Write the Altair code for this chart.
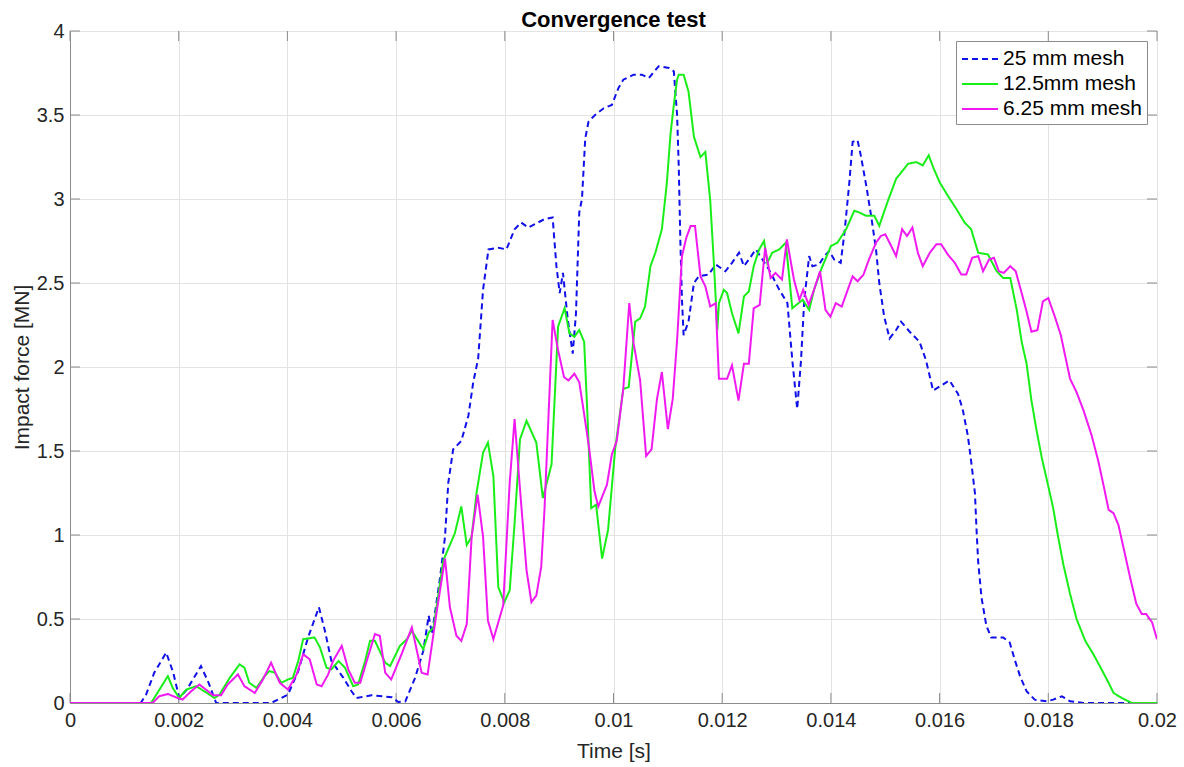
import altair as alt
import pandas as pd

# ---------------- data ----------------
series_names = ["25 mm mesh", "12.5mm mesh", "6.25 mm mesh"]
series_colors = ["#1010e8", "#19ee19", "#f01af0"]

x_ticks = [0, 0.002, 0.004, 0.006, 0.008, 0.01, 0.012, 0.014, 0.016, 0.018, 0.02]
y_ticks = [0, 0.5, 1, 1.5, 2, 2.5, 3, 3.5, 4]

# 25 mm mesh: time [ms], force [MN]
t25_ms = [0, 1.30, 1.40, 1.55, 1.77, 1.90, 2.01, 2.15, 2.41, 2.55, 2.69, 3.70, 4.01, 4.20,
          4.38, 4.58, 4.69, 4.81, 5.03, 5.18, 5.27, 5.55, 5.92, 6.04, 6.17, 6.35, 6.50,
          6.60, 6.66, 6.81, 6.90, 6.96, 7.05, 7.20, 7.33, 7.42, 7.51, 7.60, 7.70, 7.88,
          8.03, 8.18, 8.30, 8.43, 8.61, 8.73, 8.88, 8.95, 9.01, 9.07, 9.16, 9.25, 9.31,
          9.37, 9.42, 9.48, 9.54, 9.66, 9.82, 9.97, 10.09, 10.18, 10.37, 10.52, 10.65,
          10.83, 11.02, 11.11, 11.17, 11.20, 11.23, 11.26, 11.29, 11.38, 11.48, 11.57,
          11.75, 11.88, 12.06, 12.18, 12.31, 12.40, 12.49, 12.62, 12.74, 12.86, 13.05,
          13.20, 13.29, 13.38, 13.45, 13.51, 13.60, 13.66, 13.78, 13.88, 13.97, 14.06,
          14.18, 14.25, 14.34, 14.40, 14.49, 14.55, 14.65, 14.74, 14.83, 14.89, 14.98,
          15.08, 15.20, 15.29, 15.45, 15.63, 15.75, 15.88, 16.03, 16.18, 16.34, 16.43,
          16.52, 16.58, 16.65, 16.68, 16.71, 16.77, 16.86, 16.95, 17.17, 17.29, 17.38,
          17.48, 17.60, 17.75, 17.97, 18.09, 18.25, 18.40, 18.65, 20.0]
f25 = [0, 0, 0.05, 0.18, 0.30, 0.18, 0.03, 0.08, 0.22, 0.12, 0.0, 0.0, 0.05, 0.19,
       0.39, 0.57, 0.43, 0.25, 0.15, 0.07, 0.03, 0.046, 0.034, 0.006, 0.01, 0.15, 0.31,
       0.52, 0.41, 0.75, 0.99, 1.31, 1.51, 1.56, 1.71, 1.91, 2.05, 2.46, 2.70, 2.71,
       2.70, 2.82, 2.86, 2.83, 2.86, 2.88, 2.89, 2.60, 2.44, 2.56, 2.28, 2.08, 2.32,
       2.92, 3.00, 3.36, 3.46, 3.50, 3.54, 3.56, 3.66, 3.71, 3.74, 3.74, 3.72,
       3.79, 3.78, 3.76, 3.50, 3.20, 2.75, 2.40, 2.19, 2.27, 2.50, 2.54,
       2.55, 2.61, 2.57, 2.62, 2.68, 2.60, 2.64, 2.70, 2.64, 2.58, 2.46,
       2.38, 2.04, 1.75, 2.04, 2.40, 2.66, 2.60, 2.61, 2.66, 2.69, 2.64,
       2.62, 2.80, 3.10, 3.34, 3.35, 3.26, 3.08, 2.90, 2.70, 2.50, 2.30,
       2.17, 2.22, 2.27, 2.21, 2.15, 2.04, 1.86, 1.89, 1.92, 1.84, 1.74,
       1.59, 1.44, 1.25, 1.03, 0.84, 0.63, 0.46, 0.39, 0.39, 0.36, 0.26,
       0.16, 0.07, 0.02, 0.01, 0.02, 0.04, 0.01, 0.0, 0.0]

# 12.5 mm mesh
t125_ms = [0, 1.49, 1.55, 1.80, 1.89, 2.01, 2.14, 2.32, 2.47, 2.66, 2.75, 2.94, 3.12, 3.21,
           3.30, 3.43, 3.58, 3.67, 3.77, 3.89, 4.01, 4.10, 4.20, 4.29, 4.50, 4.60, 4.72,
           4.81, 4.94, 5.06, 5.21, 5.30, 5.43, 5.52, 5.61, 5.80, 5.89, 6.07, 6.20, 6.29,
           6.50, 6.60, 6.69, 6.87, 7.08, 7.20, 7.30, 7.39, 7.48, 7.60, 7.69, 7.79, 7.88,
           7.99, 8.09, 8.18, 8.28, 8.40, 8.58, 8.70, 8.86, 8.98, 9.10, 9.19, 9.28, 9.37,
           9.46, 9.52, 9.59, 9.68, 9.79, 9.90, 10.03, 10.18, 10.28, 10.40, 10.49, 10.58,
           10.68, 10.77, 10.89, 10.98, 11.05, 11.11, 11.17, 11.20, 11.29, 11.38, 11.48,
           11.60, 11.69, 11.78, 11.85, 11.91, 11.94, 12.03, 12.09, 12.18, 12.30, 12.40,
           12.49, 12.58, 12.68, 12.77, 12.83, 12.92, 13.05, 13.17, 13.29, 13.48, 13.60,
           13.69, 13.82, 14.00, 14.12, 14.28, 14.43, 14.52, 14.65, 14.80, 14.89, 15.05,
           15.20, 15.42, 15.57, 15.69, 15.80, 15.88, 16.00, 16.15, 16.31, 16.46, 16.58,
           16.71, 16.89, 17.05, 17.17, 17.30, 17.42, 17.51, 17.60, 17.69, 17.78, 17.88,
           18.00, 18.09, 18.18, 18.28, 18.40, 18.52, 18.68, 18.83, 18.98, 19.11, 19.20,
           19.35, 19.54, 20.0]
f125 = [0, 0, 0.03, 0.16, 0.09, 0.03, 0.08, 0.10, 0.07, 0.03, 0.05, 0.15, 0.23, 0.21,
        0.12, 0.09, 0.16, 0.19, 0.18, 0.12, 0.14, 0.15, 0.25, 0.38, 0.39, 0.33, 0.21,
        0.20, 0.25, 0.21, 0.10, 0.11, 0.25, 0.37, 0.37, 0.24, 0.22, 0.34, 0.38, 0.43,
        0.32, 0.42, 0.45, 0.85, 1.01, 1.17, 0.94, 0.99, 1.25, 1.49, 1.55, 1.35, 0.69,
        0.60, 0.67, 1.07, 1.57, 1.68, 1.55, 1.22, 1.42, 2.24, 2.35, 2.20, 2.18, 2.22,
        2.15, 1.72, 1.16, 1.18, 0.86, 1.03, 1.51, 1.87, 1.88, 2.27, 2.29, 2.36,
        2.60, 2.68, 2.82, 3.09, 3.39, 3.56, 3.71, 3.74, 3.74, 3.64, 3.37,
        3.25, 3.28, 2.99, 2.60, 2.22, 2.38, 2.46, 2.44, 2.32, 2.20, 2.42,
        2.45, 2.60, 2.70, 2.75, 2.62, 2.68, 2.70, 2.74, 2.35, 2.40, 2.34,
        2.46, 2.58, 2.72, 2.74, 2.82, 2.93, 2.92, 2.90, 2.90, 2.84, 2.99,
        3.12, 3.21, 3.22, 3.20, 3.26, 3.19, 3.10, 3.02, 2.94, 2.86, 2.82,
        2.68, 2.67, 2.57, 2.53, 2.53, 2.34, 2.15, 2.02, 1.80, 1.63, 1.46,
        1.29, 1.16, 0.99, 0.82, 0.65, 0.50, 0.37, 0.29, 0.20, 0.12, 0.06,
        0.03, 0.0, 0.0]

# 6.25 mm mesh
t625_ms = [0, 1.52, 1.64, 1.80, 1.95, 2.07, 2.23, 2.38, 2.54, 2.63, 2.78, 2.90, 3.09, 3.21,
           3.40, 3.55, 3.70, 3.86, 4.01, 4.17, 4.29, 4.41, 4.54, 4.63, 4.75, 4.84, 5.00,
           5.12, 5.24, 5.34, 5.46, 5.61, 5.70, 5.80, 5.91, 6.10, 6.29, 6.47, 6.58, 6.75,
           6.90, 6.99, 7.11, 7.20, 7.30, 7.39, 7.50, 7.60, 7.69, 7.79, 7.97, 8.09, 8.18,
           8.28, 8.40, 8.49, 8.58, 8.67, 8.73, 8.88, 8.98, 9.09, 9.17, 9.28, 9.37, 9.46,
           9.55, 9.65, 9.72, 9.88, 9.97, 10.06, 10.18, 10.29, 10.37, 10.49, 10.60, 10.70,
           10.80, 10.89, 11.00, 11.09, 11.17, 11.26, 11.34, 11.42, 11.50, 11.60, 11.69,
           11.78, 11.88, 11.94, 12.09, 12.18, 12.30, 12.40, 12.49, 12.58, 12.69, 12.79,
           12.89, 12.98, 13.10, 13.19, 13.32, 13.42, 13.49, 13.59, 13.69, 13.80, 13.90,
           13.99, 14.09, 14.20, 14.31, 14.40, 14.49, 14.60, 14.70, 14.83, 14.92, 15.00,
           15.11, 15.20, 15.31, 15.40, 15.50, 15.60, 15.69, 15.82, 15.94, 16.03, 16.15,
           16.28, 16.40, 16.49, 16.60, 16.71, 16.80, 16.91, 17.00, 17.09, 17.18, 17.30,
           17.40, 17.51, 17.60, 17.69, 17.80, 17.90, 18.00, 18.12, 18.23, 18.40, 18.52,
           18.65, 18.80, 18.92, 19.02, 19.11, 19.20, 19.29, 19.38, 19.51, 19.62, 19.72,
           19.80, 19.91, 20.0]
f625 = [0, 0, 0.04, 0.054, 0.034, 0.02, 0.07, 0.11, 0.07, 0.046, 0.046, 0.11, 0.17, 0.10,
        0.06, 0.14, 0.24, 0.12, 0.08, 0.17, 0.29, 0.26, 0.11, 0.10, 0.17, 0.25, 0.34,
        0.20, 0.12, 0.12, 0.25, 0.41, 0.40, 0.18, 0.14, 0.29, 0.45, 0.18, 0.17, 0.55,
        0.86, 0.57, 0.40, 0.37, 0.47, 0.99, 1.24, 0.99, 0.49, 0.38, 0.58, 1.31, 1.69,
        1.27, 0.79, 0.60, 0.64, 0.81, 1.15, 2.28, 2.10, 1.94, 1.92, 1.96, 1.91, 1.72,
        1.52, 1.26, 1.17, 1.30, 1.48, 1.56, 1.87, 2.38, 2.14, 1.92, 1.47, 1.51,
        1.81, 1.97, 1.63, 1.81, 2.16, 2.66, 2.77, 2.84, 2.84, 2.54, 2.48,
        2.36, 2.38, 1.93, 1.93, 2.01, 1.80, 2.02, 2.02, 2.35, 2.37, 2.71,
        2.53, 2.56, 2.52, 2.76, 2.52, 2.40, 2.46, 2.37, 2.46, 2.57, 2.34,
        2.30, 2.38, 2.36, 2.46, 2.54, 2.51, 2.55, 2.64, 2.74, 2.78, 2.79,
        2.72, 2.66, 2.82, 2.78, 2.83, 2.68, 2.60, 2.68, 2.73, 2.73, 2.67,
        2.62, 2.55, 2.55, 2.65, 2.66, 2.57, 2.64, 2.65, 2.57, 2.56, 2.60,
        2.57, 2.44, 2.33, 2.21, 2.22, 2.39, 2.41, 2.30, 2.19, 1.93, 1.85,
        1.74, 1.59, 1.44, 1.29, 1.15, 1.13, 1.06, 0.93, 0.74, 0.59, 0.53,
        0.53, 0.48, 0.38]

# ---------------- build table ----------------
rows = []
for name, ts, fs in zip(series_names, [t25_ms, t125_ms, t625_ms], [f25, f125, f625]):
    for t, f in zip(ts, fs):
        rows.append({"Time": t / 1000.0, "Force": f, "Mesh": name})
df = pd.DataFrame(rows)

xticks_df = pd.DataFrame({"v": x_ticks})
yticks_df = pd.DataFrame({"v": y_ticks})

W, H = 1087, 672
FONT = "Liberation Sans"
TXT = "#262626"
AXC = "#8c8c8c"

xscale = alt.Scale(domain=[0, 0.02], nice=False, zero=False)
yscale = alt.Scale(domain=[0, 4], nice=False)

lines = alt.Chart(df).mark_line(strokeWidth=2, clip=True).encode(
    x=alt.X("Time:Q", scale=xscale,
            axis=alt.Axis(values=x_ticks, format="~g", title="Time [s]",
                          labelFlush=False, labelOverlap=False)),
    y=alt.Y("Force:Q", scale=yscale,
            axis=alt.Axis(values=y_ticks, format="~g", title="Impact force [MN]",
                          labelOverlap=False)),
    color=alt.Color("Mesh:N",
                    scale=alt.Scale(domain=series_names, range=series_colors),
                    legend=alt.Legend(title=None, orient="top-right", offset=10)),
    strokeDash=alt.StrokeDash("Mesh:N",
                              scale=alt.Scale(domain=series_names,
                                              range=[[6, 4], [1, 0], [1, 0]]),
                              legend=alt.Legend(title=None, orient="top-right", offset=10)),
    order=alt.Order("Time:Q"),
)

tick_len = 10
xt_bottom = alt.Chart(xticks_df).mark_rule(color=AXC, strokeWidth=1).encode(
    x=alt.X("v:Q", scale=xscale), y=alt.value(H - tick_len), y2=alt.value(H))
xt_top = alt.Chart(xticks_df).mark_rule(color=AXC, strokeWidth=1).encode(
    x=alt.X("v:Q", scale=xscale), y=alt.value(0), y2=alt.value(tick_len))
yt_left = alt.Chart(yticks_df).mark_rule(color=AXC, strokeWidth=1).encode(
    y=alt.Y("v:Q", scale=yscale), x=alt.value(0), x2=alt.value(tick_len))
yt_right = alt.Chart(yticks_df).mark_rule(color=AXC, strokeWidth=1).encode(
    y=alt.Y("v:Q", scale=yscale), x=alt.value(W - tick_len), x2=alt.value(W))

chart = alt.layer(xt_bottom, xt_top, yt_left, yt_right, lines).properties(
    width=W, height=H,
    title=alt.TitleParams("Convergence test", fontSize=22, fontWeight="bold",
                          font=FONT, color="#000000", anchor="middle", offset=0,
                          dy=11),
    autosize=alt.AutoSizeParams(type="none"),
    padding={"left": 70, "top": 31, "right": 27, "bottom": 64},
).configure_view(
    stroke=AXC, strokeWidth=1
).configure_axis(
    grid=True, gridColor="#e3e3e3", gridWidth=1, ticks=False,
    domainColor=AXC, domainWidth=1,
    labelFont=FONT, labelFontSize=20, labelColor=TXT,
    titleFont=FONT, titleFontSize=21, titleFontWeight="normal", titleColor=TXT,
).configure_axisX(
    labelPadding=7, titleY=54, titleBaseline="alphabetic"
).configure_axisY(
    labelPadding=6, titleX=-42, titleY=H / 2, titleBaseline="alphabetic",
    titleAngle=270, titleAlign="center"
).configure_legend(
    fillColor="white", strokeColor=AXC, padding=5, cornerRadius=0,
    labelFont=FONT, labelFontSize=21, labelColor="#000000", labelOffset=16,
    symbolType="M-1,0L2,0", symbolStrokeWidth=2, symbolSize=576, rowPadding=2,
    symbolFillColor="transparent",
    labelLimit=300
)

chart.save("out.html", embed_options={"renderer": "svg", "actions": False})
